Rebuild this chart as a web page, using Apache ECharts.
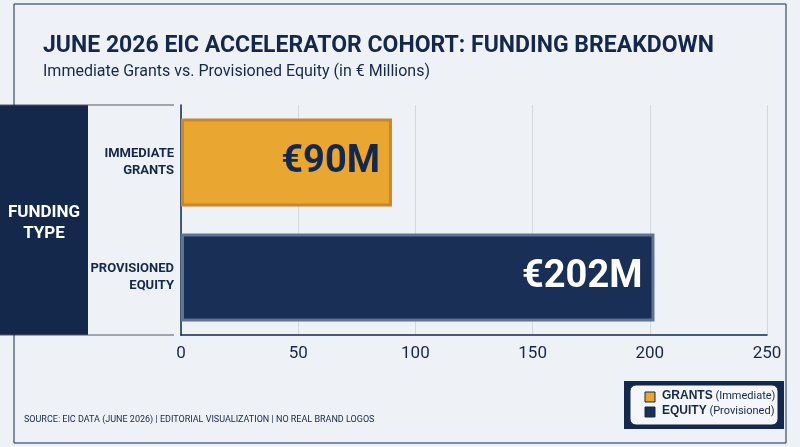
<!DOCTYPE html>
<html>
<head>
<meta charset="utf-8">
<script src="https://cdn.jsdelivr.net/npm/echarts@6/dist/echarts.min.js"></script>
<style>
  html, body { margin: 0; padding: 0; background: #eef2f7; }
  #chart { width: 800px; height: 447px; }
</style>
</head>
<body>
<div id="chart"></div>
<script>
// 数据
const categories = ['IMMEDIATE\nGRANTS', 'PROVISIONED\nEQUITY']
const values = [90, 202]
const barLabels = ['€90M', '€202M']
const barColors = ['#e9a631', '#1a2f55']
const xTicks = [0, 50, 100, 150, 200, 250]

const navy = '#14284b'
let myChart = echarts.init(document.getElementById('chart'))

myChart.setOption({
    backgroundColor: '#eef2f7',
    animation: false,
    title: {
        text: 'JUNE 2026 EIC ACCELERATOR COHORT: FUNDING BREAKDOWN',
        subtext: 'Immediate Grants vs. Provisioned Equity (in € Millions)',
        left: 38, top: 30, itemGap: 6,
        textStyle: { fontFamily: 'Roboto', fontWeight: 'bold', fontSize: 23, color: navy },
        subtextStyle: { fontFamily: 'Roboto', fontSize: 16, color: navy }
    },
    grid: { left: 181, right: 33, top: 105, bottom: 112 },
    xAxis: {
        type: 'value', min: 0, max: 250, interval: 50,
        axisLabel: { fontFamily: 'Roboto', fontSize: 17, color: navy, margin: 10 },
        axisLine: { show: true, lineStyle: { color: navy, width: 1.5 } },
        splitLine: { lineStyle: { color: '#d4d9e1' } }
    },
    yAxis: {
        type: 'category', inverse: true, data: categories,
        axisLine: { show: true, lineStyle: { color: navy, width: 1.5 } },
        axisTick: { show: false },
        axisLabel: { fontFamily: 'Roboto', fontWeight: 'bold', fontSize: 13, color: navy, lineHeight: 17, margin: 7, align: 'right' }
    },
    series: [{
        type: 'bar', barWidth: 88,
        data: values.map((v, i) => ({
            value: v,
            itemStyle: { color: barColors[i], borderColor: i ? '#5d7397' : '#c9862a', borderWidth: 3 },
            label: { color: i ? '#ffffff' : navy }
        })),
        label: {
            show: true, position: 'insideRight', distance: 12,
            formatter: p => barLabels[p.dataIndex],
            fontFamily: 'Roboto', fontWeight: 'bold', fontSize: 38
        }
    }],
    graphic: [
        { type: 'rect', shape: { x: 0, y: 105, width: 88, height: 230 }, style: { fill: navy } },
        { type: 'text', x: 44, y: 202, style: { text: 'FUNDING\nTYPE', fill: '#fff', font: 'bold 17px Roboto', lineHeight: 21, align: 'center' }, z: 10 },
        { type: 'line', shape: { x1: 0, y1: 105, x2: 174, y2: 105 }, style: { stroke: '#556', lineWidth: 1 } },
        { type: 'line', shape: { x1: 0, y1: 335, x2: 174, y2: 335 }, style: { stroke: '#556', lineWidth: 1 } },
        { type: 'rect', shape: { x: 624, y: 381, width: 160, height: 48 }, style: { fill: navy } },
        { type: 'rect', shape: { x: 630, y: 385, width: 148, height: 40, r: 6 }, style: { fill: '#f4f6f9', stroke: navy, lineWidth: 1 } },
        { type: 'rect', shape: { x: 645, y: 392, width: 10, height: 10 }, style: { fill: barColors[0], stroke: navy } },
        { type: 'rect', shape: { x: 645, y: 407, width: 10, height: 10 }, style: { fill: barColors[1], stroke: navy } },
        { type: 'text', left: 662, top: 390, style: { text: '{b|GRANTS} (Immediate)', fill: navy, font: '11px Roboto', rich: { b: { fontWeight: 'bold', fontSize: 12, fill: navy } } } },
        { type: 'text', left: 662, top: 405, style: { text: '{b|EQUITY} (Provisioned)', fill: navy, font: '11px Roboto', rich: { b: { fontWeight: 'bold', fontSize: 12, fill: navy } } } },
        { type: 'text', left: 24, top: 415, style: { text: 'SOURCE: EIC DATA (JUNE 2026) | EDITORIAL VISUALIZATION | NO REAL BRAND LOGOS', fill: navy, font: '9px Roboto' } },
        { type: 'rect', shape: { x: 14, y: 4, width: 772, height: 439 }, style: { fill: 'none', stroke: navy, lineWidth: 1 }, silent: true }
    ]
})
</script>
</body>
</html>
